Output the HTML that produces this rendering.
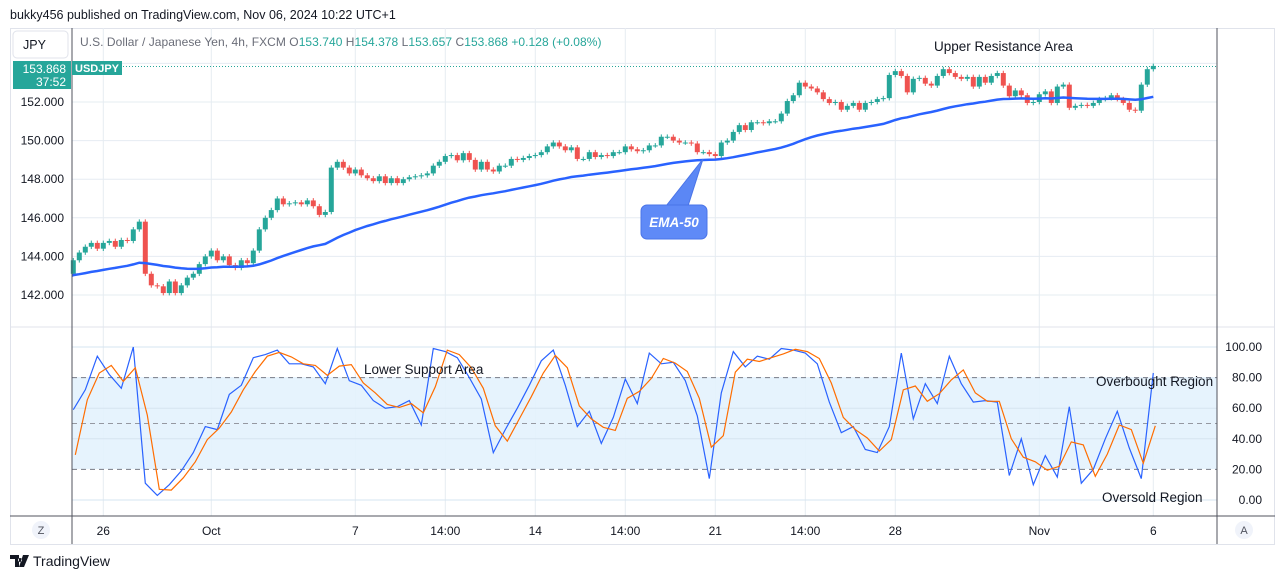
<!DOCTYPE html>
<html><head><meta charset="utf-8">
<style>
html,body{margin:0;padding:0;background:#fff;}
body{width:1281px;height:579px;overflow:hidden;font-family:"Liberation Sans",sans-serif;}
svg text{font-family:"Liberation Sans",sans-serif;}
</style></head>
<body>
<svg id="chart" width="1281" height="579" xmlns="http://www.w3.org/2000/svg">
  <text x="10" y="19" font-size="12.5" fill="#131722">bukky456 published on TradingView.com, Nov 06, 2024 10:22 UTC+1</text>
  <rect x="10.5" y="28.5" width="1264" height="516" fill="#fff" stroke="#e0e3eb"/>
  <g id="grid"></g>
  <rect x="72" y="377" width="1145" height="92" fill="#e3f2fd" opacity="0.9"/>
  <g id="osc-grid"></g>
  <g id="candles"></g>
  <path id="ema" fill="none" stroke="#2962ff" stroke-width="2.5"/>
  <line x1="72" x2="1217" y1="66.5" y2="66.5" stroke="#26a69a" stroke-dasharray="1,2"/>
  <path id="kline" fill="none" stroke="#2962ff" stroke-width="1.2"/>
  <path id="dline" fill="none" stroke="#ff6d00" stroke-width="1.2"/>
  <line x1="10" x2="1275" y1="327" y2="327" stroke="#e0e3eb"/>
  <line x1="10" x2="1275" y1="516" y2="516" stroke="#50535e"/>
  <line x1="72" x2="72" y1="28" y2="544" stroke="#50535e"/>
  <line x1="1217" x2="1217" y1="28" y2="544" stroke="#50535e"/>
  <g id="price-labels"></g>
  <g id="osc-labels"></g>
  <g id="time-labels"></g>
  <rect x="13" y="31" width="55" height="27" rx="4" fill="#fff" stroke="#e0e3eb"/>
  <text x="23" y="49" font-size="12.5" fill="#131722">JPY</text>
  <rect x="13" y="61" width="58" height="28" fill="#26a69a"/>
  <text x="66" y="73" font-size="12" fill="#fff" text-anchor="end">153.868</text>
  <text x="66" y="86" font-size="12" fill="#fff" text-anchor="end">37:52</text>
  <rect x="72" y="61" width="50" height="14" fill="#26a69a"/>
  <text x="75" y="72" font-size="11" font-weight="bold" fill="#fff">USDJPY</text>
  <text x="80" y="46" font-size="12" fill="#6a6d78" letter-spacing="0.05">U.S. Dollar / Japanese Yen, 4h, FXCM  O<tspan fill="#26a69a">153.740</tspan>  H<tspan fill="#26a69a">154.378</tspan>  L<tspan fill="#26a69a">153.657</tspan>  C<tspan fill="#26a69a">153.868</tspan>  <tspan fill="#26a69a">+0.128 (+0.08%)</tspan></text>
  <text x="934" y="51" font-size="13.5" fill="#131722">Upper Resistance Area</text>
  <path d="M666 206 L703 159 L688 206 Z" fill="#5b87f5" stroke="#4a74e8"/>
  <rect x="641" y="205" width="66" height="34" rx="6" fill="#5f8af7" stroke="#4a74e8"/>
  <text x="674" y="227" font-size="13.5" font-style="italic" font-weight="bold" fill="#fff" text-anchor="middle">EMA-50</text>
  <text x="364" y="374" font-size="13.5" fill="#131722">Lower Support Area</text>
  <text x="1096" y="386" font-size="13.5" fill="#131722">Overbought Region</text>
  <text x="1102" y="502" font-size="13.5" fill="#131722">Oversold Region</text>
  <circle cx="41" cy="530" r="9" fill="#f0f3fa"/>
  <text x="41" y="534" font-size="11" fill="#50535e" text-anchor="middle">Z</text>
  <circle cx="1244" cy="530" r="9" fill="#f0f3fa"/>
  <text x="1244" y="534" font-size="11" fill="#50535e" text-anchor="middle">A</text>
  <g>
    <path d="M10 555 h9 v12 h-4 v-8 h-5z M20 558 a2 2 0 1 0 0.1 0z M23 555 h6 l-5 12 h-5z" fill="#131722"/>
    <text x="33" y="566" font-size="14" fill="#131722">TradingView</text>
  </g>
</svg>
<script>
// Price data: closes of each 4h candle
const closes = [143.8,144.2,144.5,144.7,144.4,144.7,144.8,144.5,144.85,144.8,145.4,145.8,143.1,142.5,142.45,142.1,142.7,142.1,142.5,142.9,143.1,143.6,144.0,144.3,143.8,144.0,143.55,143.4,143.8,143.65,144.3,145.4,146.0,146.4,147.0,146.7,146.75,146.8,146.7,146.9,146.6,146.15,146.3,148.6,148.9,148.6,148.3,148.5,148.2,148.05,147.9,148.15,147.8,148.05,147.8,148.0,148.1,148.15,148.2,148.3,148.7,148.9,149.2,149.25,148.98,
149.35,149.0,148.5,148.9,148.5,148.4,148.7,148.7,149.05,149.0,149.1,149.2,149.25,149.4,149.7,149.9,149.7,149.5,149.65,149.05,149.05,149.4,149.15,149.25,149.2,149.4,149.4,149.7,149.55,149.45,149.5,149.75,149.75,150.2,150.2,150.0,149.9,149.9,149.85,149.4,149.4,149.3,149.2,149.9,150.0,150.45,150.8,150.55,150.95,150.95,150.9,151.0,151.0,151.4,152.05,152.35,153.0,152.8,152.7,152.5,152.15,151.95,152.0,
151.6,151.8,151.95,151.6,151.95,152.0,152.15,152.2,153.4,153.6,153.35,152.5,153.2,153.25,152.95,152.85,153.35,153.7,153.5,153.3,153.2,153.3,152.8,153.3,153.0,153.35,153.5,152.85,152.3,152.6,152.35,151.95,152.0,152.4,152.55,151.95,152.8,152.9,151.7,151.8,151.85,151.8,151.95,152.15,152.2,152.35,152.15,151.95,151.6,151.55,152.9,153.7,153.87];
const firstOpen = 143.1;
const emaSeed = 143.0;
// Stochastic %K sampled every 2 candles
const stochK = [59,72,94,82,73,100,11,3,10,19,31,48,46,69,75,93,95,98,89,89,87,76,99,78,75,65,60,61,65,49,99,97,93,80,66,31,46,60,75,91,98,75,48,58,37,54,79,63,96,89,
90,78,55,14,70,97,87,94,92,99,98,96,89,64,44,48,33,31,48,96,53,76,63,94,76,64,65,64,16,40,10,29,15,61,11,20,40,58,34,14,83];
const priceTicks = [142,144,146,148,150,152];
const oscTicks = [0,20,40,60,80,100];
const timeLabels = ["26","Oct","7","14:00","14","14:00","21","14:00","28","Nov","6"];
const timeIdx = [5,23,47,62,77,92,107,122,137,161,180];

const NS="http://www.w3.org/2000/svg";
const X0=73.3, DX=6;
const xOf=i=>X0+i*DX;
const yP=p=>102+(152-p)*19.3;
const yO=v=>500-v*1.53;
function mk(tag,attrs,parent){const e=document.createElementNS(NS,tag);for(const k in attrs)e.setAttribute(k,attrs[k]);parent.appendChild(e);return e;}

const grid=document.getElementById('grid');
const oscGrid=document.getElementById('osc-grid');
const pl=document.getElementById('price-labels');
const ol=document.getElementById('osc-labels');
const tl=document.getElementById('time-labels');

priceTicks.concat([154]).forEach(p=>{
  const l=mk('line',{x1:72,x2:1217,y1:yP(p),y2:yP(p),stroke:'#e6ecf2'},grid);
  
  
});
priceTicks.forEach(p=>{
  const t=mk('text',{x:64,y:yP(p)+4,'font-size':12,fill:'#131722','text-anchor':'end'},pl);
  t.textContent=p.toFixed(3);
  
  
});
timeIdx.forEach((i,k)=>{
  const x=xOf(i);
  const l=mk('line',{x1:x,x2:x,y1:28,y2:516,stroke:'#e6ecf2'},grid);
  
  
  const t=mk('text',{x:x,y:535,'font-size':12,fill:'#131722','text-anchor':'middle'},tl);
  t.textContent=timeLabels[k];
  
  
});
oscTicks.forEach(v=>{
  const dashed=(v===20||v===80);
  const l=mk('line',{x1:72,x2:1217,y1:yO(v),y2:yO(v),stroke:dashed?'#787b86':'#d6e4f0','stroke-dasharray':dashed?'5,4':'none'},oscGrid);
  
  
  const t=mk('text',{x:1262,y:yO(v)+4,'font-size':12,fill:'#131722','text-anchor':'end'},ol);
  t.textContent=v.toFixed(2);
  
  
});
const mid=mk('line',{x1:72,x2:1217,y1:yO(50),y2:yO(50),stroke:'#9598a1','stroke-dasharray':'5,4'},oscGrid);



// candles
const cg=document.getElementById('candles');
let prev=firstOpen;
closes.forEach((c,i)=>{
  const o=prev, up=c>=o, col=up?'#26a69a':'#ef5350';
  const x=xOf(i);
  const hi=Math.max(o,c)+0.12, lo=Math.min(o,c)-0.12;
  const w=mk('line',{x1:x,x2:x,y1:yP(hi),y2:yP(lo),stroke:col,'stroke-width':1},cg);
  
  
  const top=yP(Math.max(o,c)), h=Math.max(1,Math.abs(yP(o)-yP(c)));
  const b=mk('rect',{x:x-2.5,y:top,width:5,height:h,fill:col},cg);
  
  
  prev=c;
});
// EMA-50
let ema=emaSeed, d='';
const a=2/51;
closes.forEach((c,i)=>{ema=ema+a*(c-ema);d+=(i?'L':'M')+xOf(i).toFixed(1)+' '+yP(ema).toFixed(1);});
document.getElementById('ema').setAttribute('d','M72 '+yP(emaSeed).toFixed(1)+' '+d.replace(/^M/,'L'));
// Stoch
let kd='',dd='';
stochK.forEach((v,j)=>{
  const x=xOf(j*2);
  kd+=(j?'L':'M')+x.toFixed(1)+' '+yO(v).toFixed(1);
  const dv=j?(stochK[j-1]+v)/2:v*0.5;
  dd+=(j?'L':'M')+(x+2).toFixed(1)+' '+yO(dv).toFixed(1);
});
document.getElementById('kline').setAttribute('d',kd);
document.getElementById('dline').setAttribute('d',dd);
</script>
</body></html>
